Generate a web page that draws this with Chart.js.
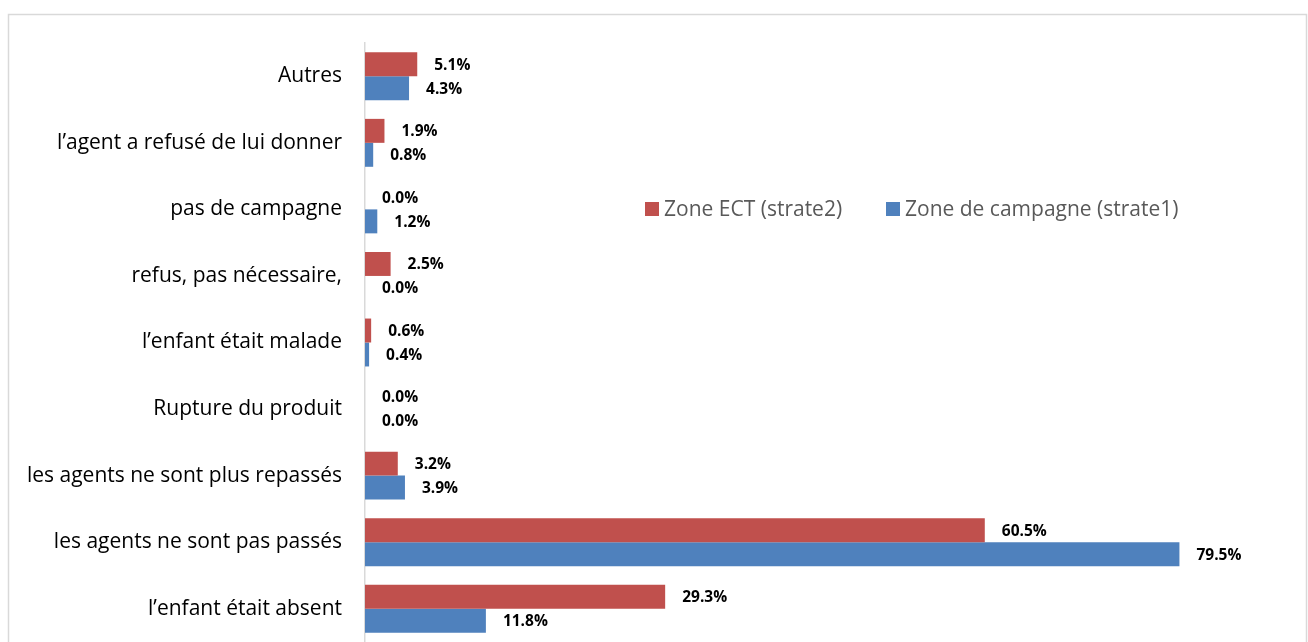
<!DOCTYPE html>
<html>
<head>
<meta charset="utf-8">
<script src="https://cdn.jsdelivr.net/npm/chart.js@4"></script>
<style>
  html, body { margin: 0; padding: 0; background: #fff; overflow: hidden; }
  #wrap { position: relative; width: 1308px; height: 642px; }
</style>
</head>
<body>
<div id="wrap"><canvas id="c" width="1308" height="642"></canvas></div>
<script>
const categories = [
  "Autres",
  "l\u2019agent a refusé de lui donner",
  "pas de campagne",
  "refus, pas nécessaire,",
  "l\u2019enfant était malade",
  "Rupture du produit",
  "les agents ne sont plus repassés",
  "les agents ne sont pas passés",
  "l\u2019enfant était absent"
];
const seriesNames = ["Zone ECT (strate2)", "Zone de campagne (strate1)"];
const zoneECT = [5.1, 1.9, 0.0, 2.5, 0.6, 0.0, 3.2, 60.5, 29.3];
const zoneCampagne = [4.3, 0.8, 1.2, 0.0, 0.4, 0.0, 3.9, 79.5, 11.8];
const colors = ["#C0504D", "#4F81BD"];

const FONT = "'Open Sans', sans-serif";

const frame = {
  id: 'frame',
  beforeDraw(chart) {
    const ctx = chart.ctx;
    ctx.save();
    ctx.fillStyle = '#fff';
    ctx.fillRect(0, 0, chart.width, chart.height);
    ctx.strokeStyle = '#D9D9D9';
    ctx.lineWidth = 1.5;
    ctx.strokeRect(8.5, 14.5, 1298, 700);
    ctx.restore();
  }
};

const dataLabels = {
  id: 'dataLabels',
  afterDatasetsDraw(chart) {
    const ctx = chart.ctx;
    ctx.save();
    ctx.font = "bold 15.5px " + FONT;
    ctx.fillStyle = '#000';
    ctx.textBaseline = 'middle';
    ctx.textAlign = 'left';
    chart.data.datasets.forEach((ds, di) => {
      const meta = chart.getDatasetMeta(di);
      meta.data.forEach((bar, i) => {
        const v = ds.data[i];
        ctx.fillText(v.toFixed(1) + '%', bar.x + 17, bar.y + 1);
      });
    });
    ctx.restore();
  }
};

const floatLegend = {
  id: 'floatLegend',
  afterDraw(chart) {
    const ctx = chart.ctx;
    ctx.save();
    ctx.font = "21px " + FONT;
    ctx.textBaseline = 'middle';
    ctx.textAlign = 'left';
    const y = 209;
    const xs = [645, 886];
    chart.data.datasets.forEach((ds, di) => {
      ctx.fillStyle = ds.backgroundColor;
      ctx.fillRect(xs[di], y - 7, 14, 14);
      ctx.fillStyle = '#595959';
      ctx.fillText(ds.label, xs[di] + 19, y + 1);
    });
    ctx.restore();
  }
};

new Chart(document.getElementById('c'), {
  type: 'bar',
  data: {
    labels: categories,
    datasets: [
      { label: seriesNames[0], data: zoneECT, backgroundColor: colors[0] },
      { label: seriesNames[1], data: zoneCampagne, backgroundColor: colors[1] }
    ]
  },
  options: {
    indexAxis: 'y',
    responsive: false,
    animation: false,
    events: [],
    layout: { padding: { top: 43, bottom: 0, left: 0, right: 21 } },
    datasets: { bar: { categoryPercentage: 0.72, barPercentage: 1.0 } },
    plugins: { legend: { display: false }, tooltip: { enabled: false } },
    scales: {
      x: { display: false, min: 0, max: 90 },
      y: {
        afterFit(scale) { scale.width = 365; scale.paddingTop = 0; scale.paddingBottom = 0; },
        grid: { display: false, drawTicks: false },
        border: { display: true, color: '#D9D9D9', width: 1.5 },
        ticks: { padding: 23, color: '#000', font: { family: FONT, size: 21 } }
      }
    }
  },
  plugins: [frame, dataLabels, floatLegend]
});
</script>
</body>
</html>
